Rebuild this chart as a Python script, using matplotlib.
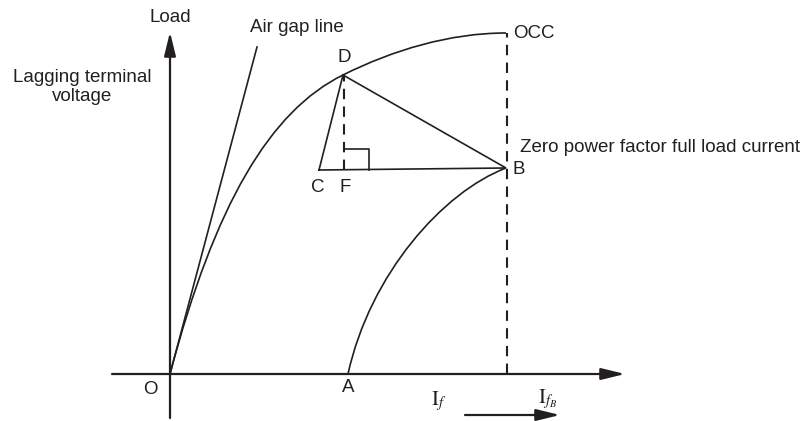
import matplotlib
matplotlib.use("Agg")
import matplotlib.pyplot as plt
from matplotlib.path import Path
from matplotlib.patches import PathPatch

plt.rcParams['font.family'] = ['Liberation Sans', 'DejaVu Sans']
plt.rcParams['mathtext.fontset'] = 'stix'

INK = '#231f20'

# key points of the diagram (origin at O)
O = (0, 0)
A = (178, 0)
B = (336, 206)
C = (149, 204)
D = (173, 299)
F = (174, 204)
occ_end = (336, 341)
air_gap_top = (87, 327)
x_axis = (-58, 455)
y_axis = (-44, 342)

# bezier control points for the OCC (O -> D -> end) and the ZPF curve (A -> B)
occ_ctrl = [O, (45, 170), (100, 263), D, (223, 324), (280, 341), occ_end]
zpf_ctrl = [A, (200, 100), (273, 182), B]

# right-angle marker at F
square_w, square_h = 25, 21

fig = plt.figure(figsize=(8.09, 4.21), dpi=100)
ax = fig.add_axes([0, 0, 1, 1])
ax.set_xlim(-170, 639)
ax.set_ylim(-47, 374)
ax.axis('off')

lw = 1.2
arr = dict(arrowstyle='-|>,head_length=0.9,head_width=0.22', lw=1.6, color=INK,
           mutation_scale=16, shrinkA=0, shrinkB=0)

# axes with arrows
ax.annotate('', xy=(x_axis[1], 0), xytext=(x_axis[0], 0), arrowprops=arr)
ax.annotate('', xy=(0, y_axis[1]), xytext=(0, y_axis[0]), arrowprops=arr)

# OCC and ZPF curves
occ_codes = [Path.MOVETO] + [Path.CURVE4] * 6
ax.add_patch(PathPatch(Path(occ_ctrl, occ_codes), fill=False, lw=lw, ec=INK))
zpf_codes = [Path.MOVETO] + [Path.CURVE4] * 3
ax.add_patch(PathPatch(Path(zpf_ctrl, zpf_codes), fill=False, lw=lw, ec=INK))

# air gap line
ax.plot([O[0], air_gap_top[0]], [O[1], air_gap_top[1]], color=INK, lw=lw)

# Potier triangle
ax.plot([C[0], D[0], B[0], C[0]], [C[1], D[1], B[1], C[1]], color=INK, lw=lw,
        solid_joinstyle='miter')
ax.plot([F[0], F[0]], [F[1], D[1]], color=INK, lw=1.5, ls=(0, (5, 3.5)))
ax.plot([F[0], F[0] + square_w, F[0] + square_w], [F[1] + square_h, F[1] + square_h, F[1]],
        color=INK, lw=lw)

# dashed line at I_fB
ax.plot([B[0] + 1, B[0] + 1], [0, occ_end[1]], color=INK, lw=1.5, ls=(0, (5, 3.5)))

# direction arrow under the x axis
ax.annotate('', xy=(390, -41), xytext=(295, -41), arrowprops=arr)

fs = 13.5
ax.text(0, 357, 'Load', ha='center', va='center', fontsize=fs, color=INK)
ax.text(-88, 287, 'Lagging terminal\nvoltage', ha='center', va='center', fontsize=fs,
        color=INK, linespacing=1.1)
ax.text(80, 346, 'Air gap line', ha='left', va='center', fontsize=fs, color=INK)
ax.text(174, 316, 'D', ha='center', va='center', fontsize=fs, color=INK)
ax.text(343, 340, 'OCC', ha='left', va='center', fontsize=fs, color=INK)
ax.text(350, 227, 'Zero power factor full load current', ha='left', va='center',
        fontsize=fs, color=INK)
ax.text(343, 205, 'B', ha='left', va='center', fontsize=fs, color=INK)
ax.text(148, 187, 'C', ha='center', va='center', fontsize=fs, color=INK)
ax.text(175, 187, 'F', ha='center', va='center', fontsize=fs, color=INK)
ax.text(-20, -16, 'O', ha='center', va='center', fontsize=fs, color=INK)
ax.text(178, -14, 'A', ha='center', va='center', fontsize=fs, color=INK)
ax.text(269, -27, r'$\mathrm{I}_{f}$', ha='center', va='center', fontsize=15, color=INK)
ax.text(378, -25, r'$\mathrm{I}_{f_B}$', ha='center', va='center', fontsize=15, color=INK)

fig.savefig('out.png', dpi=100)
